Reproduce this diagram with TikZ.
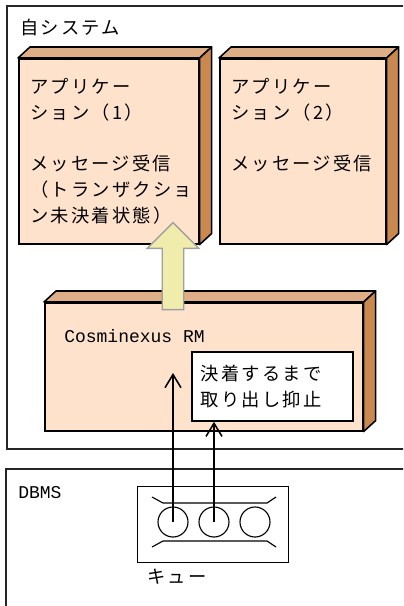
\documentclass[tikz,border=0pt]{standalone}
\usepackage{fontspec}
\newfontfamily\jpfont[LetterSpace=12]{Noto Sans CJK JP}
\newfontfamily\monofont{Liberation Mono}
\usepackage{xcolor}
\definecolor{facefront}{RGB}{255,226,204}
\definecolor{facetop}{RGB}{222,174,134}
\definecolor{faceside}{RGB}{200,136,80}
\definecolor{liftfill}{RGB}{240,236,172}
\definecolor{liftline}{RGB}{160,160,160}
\usetikzlibrary{arrows.meta, positioning, shapes.arrows, calc}

% top and right faces of a block node
\newcommand{\sidefaces}[1]{%
  \draw[boxline, fill=facetop] (#1.north west) -- ++(12,-11)
       -- ($(#1.north east)+(12,-11)$) -- (#1.north east) -- cycle;
  \draw[boxline, fill=faceside] (#1.north east) -- ++(12,-11)
       -- ($(#1.south east)+(12,-11)$) -- (#1.south east) -- cycle;}

\tikzset{
  front/.style={draw, fill=facefront, line width=1.1pt, anchor=north west, inner sep=0pt},
  boxline/.style={line width=1.1pt, line join=round},
  area/.style={draw=black!85, line width=1pt},
  jp/.style={font=\jpfont\fontsize{13pt}{18.3pt}\selectfont, inner sep=0pt},
  mono/.style={font=\monofont\fontsize{12.8pt}{16pt}\selectfont, inner sep=0pt},
  flow/.style={-{Straight Barb[length=3.3mm, width=4mm]}, line width=1.1pt},
  slot/.style={circle, draw, line width=0.8pt, minimum size=0.75cm, inner sep=0pt}
}

\begin{document}
\begin{tikzpicture}[x=0.025cm, y=-0.025cm]
  \useasboundingbox (0,0) rectangle (403,606);
  \clip (0,0) rectangle (403,606);

  % own system area
  \draw[area] (7,6) rectangle (430,449);
  \node (own) [jp, anchor=west] at (20,28) {自システム};

  % application blocks
  \node (app1) [front, minimum width=4.5cm, minimum height=4.625cm] at (18,58) {};
  \sidefaces{app1}
  \node (app1txt) [jp, anchor=north west, align=left] at (30,78)
       {アプリケー\\ション（1）\\[18.3pt]メッセージ受信\\（トランザクショ\\ン未決着状態）};

  \node (app2) [front, minimum width=4.15cm, minimum height=4.625cm] at (219,58) {};
  \sidefaces{app2}
  \node (app2txt) [jp, anchor=north west, align=left] at (231,78)
       {アプリケー\\ション（2）\\[18.3pt]メッセージ受信};

  % resource manager block
  \node (rm) [front, minimum width=7.95cm, minimum height=3.2cm] at (44,302) {};
  \sidefaces{rm}
  \node (rmtxt) [mono, anchor=west] at (64,336) {Cosminexus RM};
  \node (hold) [draw, fill=white, line width=1.1pt, anchor=north west,
       minimum width=4.03cm, minimum height=1.73cm, text width=3.58cm,
       inner xsep=0.225cm, align=left, font=\jpfont\fontsize{13pt}{18.3pt}\selectfont]
       at (191,351) {決着するまで\\取り出し抑止};

  % message handed up to the application
  \node (lift) [single arrow, rotate=90, draw=liftline, fill=liftfill, line width=1pt,
       minimum height=2.175cm, minimum width=1.25cm, inner xsep=0pt, inner ysep=0.25cm,
       single arrow head extend=0.375cm] at (173,271.5) {};

  % DBMS area
  \draw[area] (6,469) rectangle (430,640);
  \node (dbms) [mono, anchor=west] at (18,493) {DBMS};

  % queue
  \node (queue) [draw, line width=1pt, minimum width=3.775cm, minimum height=1.9cm,
       anchor=north west] at (137,486) {};
  \node (q1) [slot] at (173,522) {};
  \node (q2) [slot] at (214,522) {};
  \node (q3) [slot] at (255,522) {};
  \draw[line width=0.8pt] (152,497) -- (163,503) -- (267,503) -- (276,497);
  \draw[line width=0.8pt] (152,547) -- (163,541) -- (267,541) -- (276,547);
  \node (qlabel) [jp, anchor=west] at (147,577) {キュー};

  % reads from the queue
  \coordinate (rmin) at (173,373);
  \draw[flow] (q1.center) -- (rmin);
  \draw[flow] (q2.center) -- (q2.center |- hold.south);
\end{tikzpicture}
\end{document}
